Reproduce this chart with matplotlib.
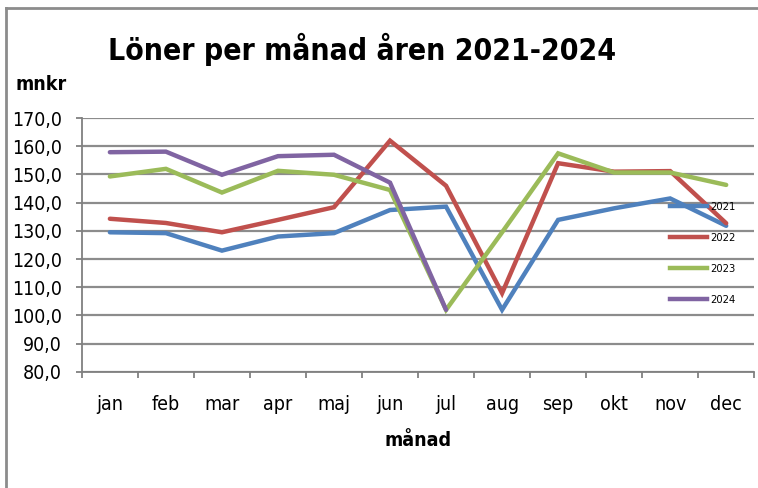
import matplotlib
matplotlib.use("Agg")
import matplotlib.pyplot as plt
from matplotlib.lines import Line2D

plt.rcParams['font.family'] = ['DejaVu Sans']
plt.rcParams['font.stretch'] = 'condensed'

months = ["jan", "feb", "mar", "apr", "maj", "jun", "jul", "aug", "sep", "okt", "nov", "dec"]
y2021 = [129.5, 129.2, 123.0, 128.0, 129.2, 137.4, 138.6, 102.0, 133.9, 138.0, 141.5, 131.8]
y2022 = [134.3, 132.8, 129.5, 133.9, 138.4, 162.0, 146.0, 107.9, 154.0, 151.0, 151.2, 132.7]
y2023 = [149.3, 152.0, 143.6, 151.3, 149.9, 144.5, 102.0, 129.5, 157.5, 150.7, 150.7, 146.3]
y2024 = [157.9, 158.1, 149.9, 156.5, 157.0, 147.1, 102.0]
colors = {"2021": "#4F81BD", "2022": "#C0504D", "2023": "#9BBB59", "2024": "#8064A2"}
yticks = [80, 90, 100, 110, 120, 130, 140, 150, 160, 170]

fig = plt.figure(figsize=(7.58, 4.88), dpi=100)
ax = fig.add_axes([0.108, 0.238, 0.887, 0.52])

x = list(range(len(months)))
series = [("2021", y2021), ("2022", y2022), ("2023", y2023), ("2024", y2024)]
for name, vals in series:
    ax.plot(x[:len(vals)], vals, color=colors[name], lw=3.2, solid_capstyle="round",
            solid_joinstyle="miter", zorder=3)

ax.set_xlim(-0.5, 11.5)
ax.set_ylim(80, 170)
ax.set_yticks(yticks)
ax.set_yticklabels([f"{v:.1f}".replace(".", ",") for v in yticks], fontsize=14)
ax.yaxis.grid(True, color="#8c8c8c", lw=1.6, zorder=1)
ax.set_axisbelow(True)

ax.set_xticks(x)
ax.set_xticklabels(months, fontsize=14)
ax.set_xticks([i - 0.5 for i in range(13)], minor=True)
ax.tick_params(axis="x", which="major", length=0, pad=17)
ax.tick_params(axis="x", which="minor", length=4, color="#808080", width=1.3)
ax.tick_params(axis="y", length=4.5, color="#808080", width=1.3, pad=10)

for s in ["top", "right"]:
    ax.spines[s].set_visible(False)
for s in ["left", "bottom"]:
    ax.spines[s].set_color("#808080")
    ax.spines[s].set_linewidth(1.3)

ax.set_xlabel("månad", fontsize=14, fontweight="bold", labelpad=12)

fig.text(0.142, 0.898, "Löner per månad åren 2021-2024", fontsize=21.6, fontweight="bold",
         ha="left", va="center")
fig.text(0.02, 0.826, "mnkr", fontsize=14, fontweight="bold", ha="left", va="center")

handles = [Line2D([0], [0], color=colors[n], lw=3.2) for n, _ in series]
leg = ax.legend(handles, [n for n, _ in series], loc="upper left",
                bbox_to_anchor=(0.86, 0.71), frameon=False, fontsize=8,
                handlelength=3.3, labelspacing=1.9, handletextpad=0.3)
leg.set_zorder(5)

# outer chart frame (left and top edges)
fig.add_artist(Line2D([0.0075, 0.0075], [0.0, 0.984], color="#8c8c8c", lw=2.0))
fig.add_artist(Line2D([0.0075, 1.0], [0.984, 0.984], color="#8c8c8c", lw=2.0))

fig.savefig("out.png", dpi=100)
